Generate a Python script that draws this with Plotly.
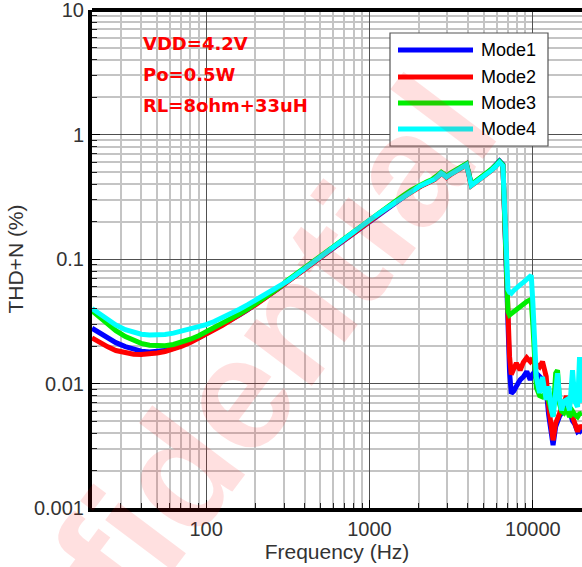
import plotly.graph_objects as go

# ---------------- data ----------------
freq_low = [20, 22, 25, 28, 32, 36, 40, 45, 50, 56, 63, 71, 80, 90, 100, 112,
            125, 140, 160, 180, 200, 224, 250, 280]
freq_mid = [315, 400, 500, 630, 800, 1000, 1250, 1600, 1800, 2000, 2120, 2250,
            2400, 2500, 2650, 2750, 2850, 2960, 3150, 3350, 3550, 3750, 3920,
            4050, 4200, 4400, 4700, 5000, 5300, 5600, 5900, 6250, 6560]
freq_high = [6800, 7040, 7200, 7380, 7650, 7930, 8360, 8750, 9180, 9640, 9780,
             10000, 10300, 10500, 11000, 11460, 12070, 12500, 12970, 13300,
             13800, 14160, 14600, 14990, 15500, 16070, 16780, 17500, 18100,
             18790, 19320, 20000]

mode1_low = [0.0278, 0.0256, 0.0232, 0.0213, 0.0198, 0.0188, 0.0182, 0.0179,
             0.0180, 0.0184, 0.0192, 0.0203, 0.0217, 0.0233, 0.0251, 0.0272,
             0.0294, 0.0322, 0.0357, 0.0393, 0.0431, 0.0478, 0.0527, 0.0586]
mode2_low = [0.0233, 0.0215, 0.0197, 0.0184, 0.0176, 0.0172, 0.0171, 0.0172,
             0.0176, 0.0181, 0.0189, 0.0200, 0.0214, 0.0231, 0.0249, 0.0270,
             0.0292, 0.0320, 0.0355, 0.0391, 0.0429, 0.0476, 0.0525, 0.0584]
mode3_low = [0.0385, 0.0345, 0.0300, 0.0266, 0.0238, 0.0221, 0.0210, 0.0203,
             0.0200, 0.0201, 0.0206, 0.0215, 0.0227, 0.0242, 0.0260, 0.0280,
             0.0302, 0.0329, 0.0363, 0.0398, 0.0436, 0.0482, 0.0531, 0.0590]
mode4_low = [0.0400, 0.0365, 0.0325, 0.0295, 0.0271, 0.0257, 0.0249, 0.0245,
             0.0245, 0.0248, 0.0254, 0.0264, 0.0275, 0.0285, 0.0297, 0.0315,
             0.0336, 0.0362, 0.0395, 0.0430, 0.0466, 0.0510, 0.0556, 0.0610]

mode1_mid = [0.0660, 0.0830, 0.1040, 0.1295, 0.1625, 0.2045, 0.2515, 0.3155,
             0.3495, 0.3795, 0.3945, 0.4095, 0.4245, 0.4375, 0.4680, 0.4905,
             0.4760, 0.4560, 0.4840, 0.5110, 0.5370, 0.5590, 0.5790, 0.4900,
             0.3960, 0.4130, 0.4380, 0.4640, 0.4950, 0.5270, 0.5620, 0.6150,
             0.5750]
mode2_mid = [0.0658, 0.0826, 0.1035, 0.1288, 0.1615, 0.2035, 0.2500, 0.3135,
             0.3470, 0.3770, 0.3920, 0.4070, 0.4220, 0.4350, 0.4650, 0.4870,
             0.4720, 0.4520, 0.4790, 0.5050, 0.5300, 0.5510, 0.5680, 0.4790,
             0.3890, 0.4070, 0.4320, 0.4570, 0.4870, 0.5170, 0.5510, 0.6000,
             0.5600]
mode3_mid = [0.0675, 0.0850, 0.1065, 0.1325, 0.1662, 0.2090, 0.2570, 0.3220,
             0.3570, 0.3875, 0.4030, 0.4180, 0.4335, 0.4465, 0.4770, 0.4990,
             0.4840, 0.4640, 0.4915, 0.5180, 0.5435, 0.5640, 0.5810, 0.4900,
             0.3980, 0.4160, 0.4415, 0.4670, 0.4975, 0.5280, 0.5630, 0.6100,
             0.5700]
mode4_mid = [0.0665, 0.0835, 0.1045, 0.1300, 0.1630, 0.2050, 0.2520, 0.3160,
             0.3500, 0.3800, 0.3950, 0.4100, 0.4250, 0.4380, 0.4680, 0.4900,
             0.4750, 0.4550, 0.4820, 0.5080, 0.5330, 0.5530, 0.5700, 0.4800,
             0.3900, 0.4080, 0.4330, 0.4580, 0.4880, 0.5180, 0.5520, 0.6000,
             0.5600]

mode1_high = [0.150, 0.024, 0.0125, 0.0083, 0.0087, 0.0095, 0.0107, 0.0113,
              0.0125, 0.0107, 0.0112, 0.0120, 0.0124, 0.0120, 0.0114, 0.0108,
              0.0090, 0.0056, 0.0042, 0.0032, 0.0045, 0.0050, 0.0055, 0.0058,
              0.0066, 0.0072, 0.0060, 0.0050, 0.0047, 0.0041, 0.0042, 0.0040]
mode2_high = [0.160, 0.030, 0.0165, 0.0118, 0.0130, 0.0146, 0.0128, 0.0148,
              0.0161, 0.0150, 0.0154, 0.0150, 0.0146, 0.0140, 0.0136, 0.0150,
              0.0114, 0.0065, 0.0045, 0.0035, 0.0048, 0.0052, 0.0058, 0.0062,
              0.0070, 0.0079, 0.0064, 0.0054, 0.0050, 0.0041, 0.0046, 0.0043]
mode3_high = [0.170, 0.038, 0.0355, 0.0364, 0.0385, 0.0400, 0.0416, 0.0435,
              0.0455, 0.0470, 0.0460, 0.0300, 0.0154, 0.0093, 0.0080, 0.0078,
              0.0085, 0.0072, 0.0058, 0.0055, 0.0121, 0.0128, 0.0068, 0.0060,
              0.0058, 0.0064, 0.0054, 0.0060, 0.0056, 0.0054, 0.0057, 0.0058]
mode4_high = [0.180, 0.057, 0.054, 0.053, 0.056, 0.059, 0.062, 0.065,
              0.069, 0.073, 0.074, 0.045, 0.018, 0.0113, 0.0084, 0.0113,
              0.0074, 0.0095, 0.0062, 0.0054, 0.0085, 0.0121, 0.0075, 0.0061,
              0.0072, 0.0074, 0.0061, 0.0128, 0.0072, 0.0065, 0.0163, 0.0070]

freq_hz = freq_low + freq_mid + freq_high
series = {
    "Mode1": mode1_low + mode1_mid + mode1_high,
    "Mode2": mode2_low + mode2_mid + mode2_high,
    "Mode3": mode3_low + mode3_mid + mode3_high,
    "Mode4": mode4_low + mode4_mid + mode4_high,
}
colors = {"Mode1": "#0000ff", "Mode2": "#ff0000", "Mode3": "#00ee00", "Mode4": "#00ffff"}

x_tickvals = [100, 1000, 10000]
x_ticktext = ["100", "1000", "10000"]
y_tickvals = [0.001, 0.01, 0.1, 1, 10]
y_ticktext = ["0.001", "0.01", "0.1", "1", "10"]
conditions = ["VDD=4.2V", "Po=0.5W", "RL=8ohm+33uH"]

# ---------------- figure ----------------
W, H = 582, 567
ML, MR, MT, MB = 92, 0, 10, 59
PW, PH = W - ML - MR, H - MT - MB


def px(xp):
    return (xp - ML) / PW


def py(yp):
    return (H - MB - yp) / PH


fig = go.Figure()
for name, vals in series.items():
    fig.add_trace(go.Scatter(x=freq_hz, y=vals, mode="lines", name=name,
                             line=dict(color=colors[name], width=5)))

minor_x = [d * 10 ** k for k in range(1, 5) for d in range(2, 10) if 20 <= d * 10 ** k <= 20000]
minor_y = [d * 10.0 ** k for k in range(-3, 1) for d in range(2, 10)]

axis_common = dict(
    type="log", showgrid=True, gridcolor="#505050", gridwidth=1.3,
    showline=True, linecolor="black", linewidth=4, zeroline=False,
    ticks="inside", ticklen=8, tickcolor="black", tickwidth=1.3,
    tickfont=dict(size=20, color="#333333"), ticklabeloverflow="allow",
)

fig.update_layout(
    width=W, height=H,
    margin=dict(l=ML, r=MR, t=MT, b=MB),
    paper_bgcolor="white", plot_bgcolor="white",
    showlegend=False,
    font=dict(family="Liberation Sans, Arial, sans-serif", size=20, color="#333333"),
    xaxis=dict(
        **axis_common,
        range=[1.30103, 4.30103],
        tickmode="array", tickvals=x_tickvals, ticktext=x_ticktext,
        minor=dict(tickmode="array", tickvals=minor_x, showgrid=True,
                   gridcolor="#c4c4c4", gridwidth=1.5, ticks="inside",
                   ticklen=5, tickcolor="#222222", tickwidth=1),
        title=dict(text="Frequency (Hz)", font=dict(size=21, color="#333333"), standoff=4),
    ),
    yaxis=dict(
        **axis_common,
        range=[-3, 1.0008],
        tickmode="array", tickvals=y_tickvals, ticktext=y_ticktext,
        minor=dict(tickmode="array", tickvals=minor_y, showgrid=True,
                   gridcolor="#c4c4c4", gridwidth=1.5, ticks="inside",
                   ticklen=5, tickcolor="#222222", tickwidth=1),
        title=dict(text="THD+N (%)", font=dict(size=21, color="#333333"), standoff=6),
    ),
)

shapes = []
# top frame line
shapes.append(dict(type="line", xref="paper", yref="paper", x0=0, x1=1, y0=1, y1=1,
                   line=dict(color="black", width=4)))
# legend box
shapes.append(dict(type="rect", xref="paper", yref="paper",
                   x0=px(390), x1=px(548), y0=py(146), y1=py(33),
                   fillcolor="white", line=dict(color="#555555", width=1.2), layer="above"))
annotations = []
leg_rows = [50, 77, 103, 129]
for (name, _), yrow in zip(series.items(), leg_rows):
    shapes.append(dict(type="line", xref="paper", yref="paper",
                       x0=px(398), x1=px(473), y0=py(yrow), y1=py(yrow),
                       line=dict(color=colors[name], width=5), layer="above"))
    annotations.append(dict(xref="paper", yref="paper", x=px(479), y=py(yrow),
                            text=name, showarrow=False, xanchor="left", yanchor="middle",
                            font=dict(family="Liberation Sans, Arial", size=18, color="black")))

for txt, yrow in zip(conditions, [44, 75, 106]):
    annotations.append(dict(xref="paper", yref="paper", x=px(141), y=py(yrow),
                            text="<b>" + txt + "</b>", showarrow=False,
                            xanchor="left", yanchor="middle",
                            font=dict(family="DejaVu Sans", size=18, color="#ff0000")))

# watermark
annotations.append(dict(xref="paper", yref="paper", x=px(180), y=py(468),
                        text="<b>Confidential</b>", showarrow=False, textangle=-53,
                        xanchor="center", yanchor="middle",
                        font=dict(family="Liberation Sans, Arial", size=160,
                                  color="rgba(255,0,0,0.12)")))

fig.update_layout(shapes=shapes, annotations=annotations)
fig.write_html("out.html")
